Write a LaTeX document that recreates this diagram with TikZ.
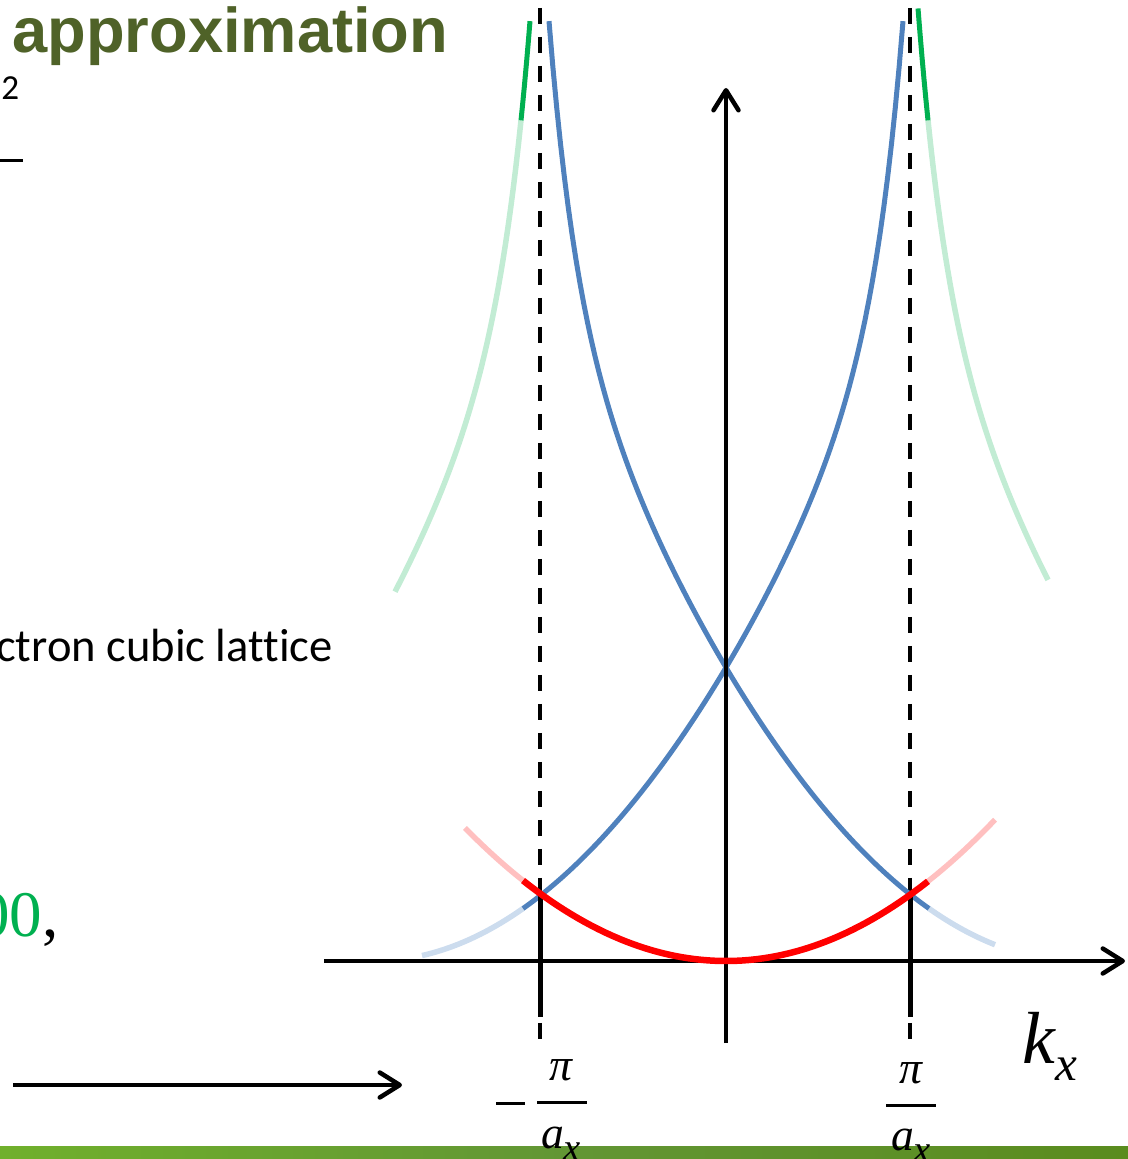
\documentclass[tikz,border=0pt]{standalone}
\usepackage{fontspec}
\setmainfont{Liberation Serif}
\newfontfamily\titlefont{Liberation Sans}
\newfontfamily\bodyfont[Ligatures=NoCommon]{Carlito}
\usetikzlibrary{arrows.meta}
\definecolor{titlegreen}{RGB}{79,98,40}
\definecolor{bandblue}{RGB}{79,129,189}
\definecolor{paleblue}{RGB}{204,220,238}
\definecolor{palered}{RGB}{255,192,192}
\definecolor{bandgreen}{RGB}{0,176,80}
\definecolor{palegreen}{RGB}{194,236,212}
\definecolor{barleft}{RGB}{112,176,44}
\definecolor{barmid}{RGB}{98,150,52}
\definecolor{barright}{RGB}{90,140,30}
\tikzset{declare function={bandE(\u)=0.002365*(352-(\u))*(352-(\u))+278*exp(0.036*(-177-(\u)));
  freeE(\u)=0.00195*(\u)*(\u);}}
\begin{document}
\begin{tikzpicture}[x=0.02cm,y=-0.02cm,
  kaxis/.style={line width=0.09cm,-{Straight Barb[length=0.4cm,width=0.5cm,line cap=round,line join=round]}},
  zoneline/.style={line width=0.075cm,dash pattern=on 0.32cm off 0.26cm},
  tickline/.style={line width=0.1cm},
  fracbar/.style={line width=0.06cm},
  blueband/.style={bandblue,line width=0.1cm},
  paleband/.style={line width=0.11cm}]
\useasboundingbox (0,0) rectangle (1128,1159);
\shade[left color=barleft,right color=barright,middle color=barmid] (0,1146) rectangle (1128,1159);
\draw[zoneline] (540,8) -- (540,1045);
\draw[zoneline] (910,8) -- (910,1045);
\draw[paleband,paleblue] plot[domain=203:269,samples=20] ({726+\x},{961-bandE(\x)});
\draw[paleband,paleblue] plot[domain=203:304,samples=20] ({726-\x},{961-bandE(\x)});
\draw[paleband,palegreen] plot[domain=-168:-42,samples=50] ({353-\x},{961-bandE(\x)});
\draw[paleband,palegreen] plot[domain=-168:-48,samples=50] ({1096+\x},{961-bandE(\x)});
\draw[paleband,palered] plot[domain=-261:-203,samples=12] ({726+\x},{961-freeE(\x)});
\draw[paleband,palered] plot[domain=202:269,samples=12] ({726+\x},{961-freeE(\x)});
\draw[blueband] plot[domain=-177:203,samples=100] ({726+\x},{961-bandE(\x)});
\draw[blueband] plot[domain=-177:203,samples=100] ({726-\x},{961-bandE(\x)});
\draw[bandgreen,line width=0.1cm] plot[domain=-177:-168,samples=6] ({353-\x},{961-bandE(\x)});
\draw[bandgreen,line width=0.1cm] plot[domain=-178:-168,samples=6] ({1096+\x},{961-bandE(\x)});
\coordinate (O) at (726,961);
\draw[kaxis] (324,961) -- (1125,961);
\draw[kaxis] (726,1043) -- (726,88);
\draw[tickline] (540,895) -- (540,1017);
\draw[tickline] (910,895) -- (910,1017);
\draw[red,line width=0.13cm] plot[domain=-203:202,samples=60] ({726+\x},{961-freeE(\x)});
\draw[kaxis] (13,1085) -- (402,1085);
\draw[fracbar] (0,160) -- (23,160);
\node (title) at (12,53) [anchor=base west,inner sep=0,text=titlegreen,font=\titlefont\bfseries\fontsize{36}{40}\selectfont] {approximation};
\node (sq) at (1,100) [anchor=base west,inner sep=0,font=\bodyfont\fontsize{20}{24}\selectfont] {2};
\node (lattice) at (333,661) [anchor=base east,inner sep=0,font=\bodyfont\fontsize{26.5}{30}\selectfont] {ctron cubic lattice};
\node (val) at (59,936) [anchor=base east,inner sep=0,font=\fontsize{37}{40}\selectfont] {\textcolor{bandgreen}{00},};
\node (piL) at (561,1080) [anchor=base,inner sep=0,font=\fontsize{26}{30}\selectfont] {\itshape π};
\draw[fracbar] (537,1102) -- (587,1102);
\draw[fracbar] (496,1103) -- (525,1103);
\node (aL) at (561,1148) [anchor=base,inner sep=0,font=\fontsize{26}{30}\selectfont] {\itshape a\raisebox{-0.24cm}{\fontsize{22}{24}\selectfont x}};
\node (piR) at (911,1083) [anchor=base,inner sep=0,font=\fontsize{26}{30}\selectfont] {\itshape π};
\draw[fracbar] (886,1105) -- (936,1105);
\node (aR) at (911,1150) [anchor=base,inner sep=0,font=\fontsize{26}{30}\selectfont] {\itshape a\raisebox{-0.24cm}{\fontsize{22}{24}\selectfont x}};
\node (kx) at (1022,1063) [anchor=base west,inner sep=0,font=\fontsize{42}{46}\selectfont] {\itshape k\raisebox{-0.34cm}{\fontsize{28}{30}\selectfont x}};
\end{tikzpicture}
\end{document}
